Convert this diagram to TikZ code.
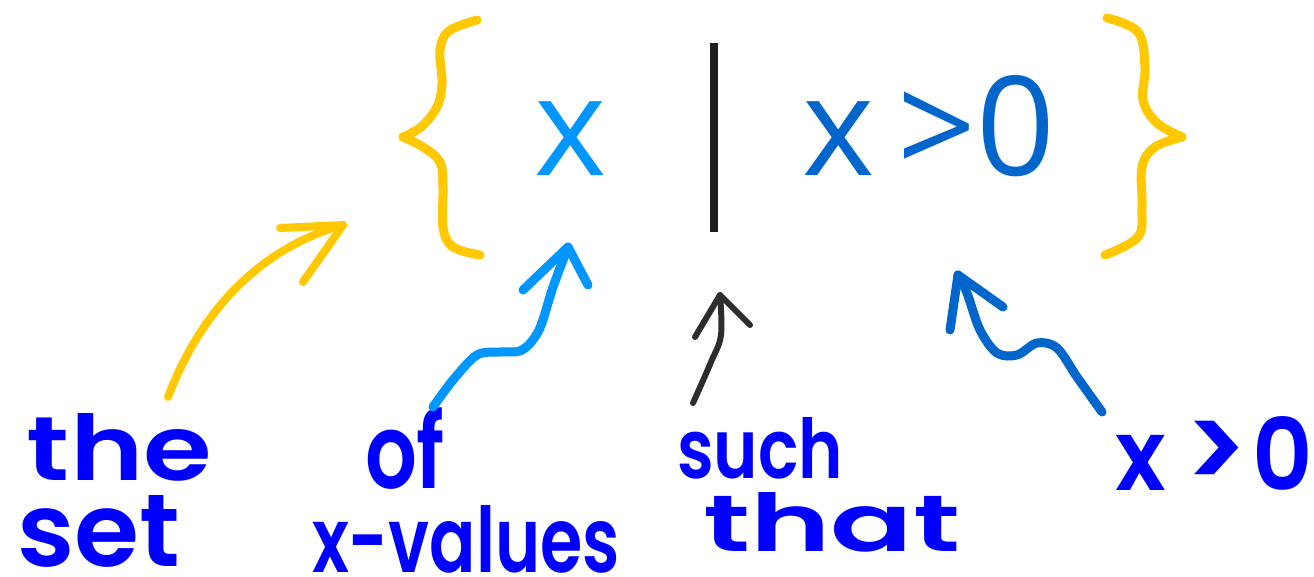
\documentclass[tikz,border=0pt]{standalone}
\usepackage{fontspec}
\usepackage{graphicx}
\newfontfamily\mainsans{Open Sans}
\newfontfamily\hwfamily{Poppins}[BoldFont={Poppins SemiBold}]
\usetikzlibrary{calc}
\definecolor{braceyellow}{RGB}{255,200,0}
\definecolor{lightblue}{RGB}{0,150,255}
\definecolor{darkblue}{RGB}{0,102,204}
\definecolor{penblue}{RGB}{0,0,255}
\definecolor{pengray}{RGB}{45,45,45}
\definecolor{barblack}{RGB}{30,30,30}
\newcommand\hw[3]{\resizebox{#1pt}{#2pt}{\hwfamily\bfseries #3}}
\tikzset{
  hwlabel/.style={anchor=base west, inner sep=0pt, outer sep=0pt, text=penblue},
  mathtext/.style={anchor=base, inner sep=0pt, outer sep=0pt, font=\mainsans\fontsize{138}{140}\selectfont},
  brace/.style={draw=braceyellow, line width=9pt, line cap=round, line join=round},
  pen/.style={line width=#1, line cap=round, line join=round},
}
\begin{document}
\begin{tikzpicture}[x=1pt, y=-1pt]
\fill[white] (0,0) rectangle (1314,576);
\useasboundingbox (0,0) rectangle (1314,576);

% main set notation
\node[mathtext, text=lightblue] (var) at (571,175) {x};
\node[mathtext, text=darkblue, anchor=base west] (cond) at (802,175) {x\hspace{0.17em}>0};
\draw[barblack, line width=8pt] (713.5,43) -- (713.5,232);

% braces
\draw[brace] plot[smooth, tension=0.6] coordinates {(477,20) (449,31) (440,50) (442,83) (437,107) (421,127) (403,137)};
\draw[brace] plot[smooth, tension=0.6] coordinates {(403,137) (423,147) (440,162) (443,187) (443,227) (453,247) (480,255)};
\draw[brace] plot[smooth, tension=0.6] coordinates {(1107,18) (1138,32) (1145,67) (1143,100) (1157,123) (1182,137)};
\draw[brace] plot[smooth, tension=0.6] coordinates {(1182,137) (1155,147) (1142,167) (1142,207) (1138,237) (1105,255)};

% handwritten labels
\node[hwlabel] (the) at (27,480) {\hw{185}{67}{the}};
\node[hwlabel] (set) at (17,566) {\hw{163}{71}{set}};
\node[hwlabel] (of) at (365,488) {\hw{80}{81}{of}};
\node[hwlabel] (xvalues) at (312,572) {\hw{308}{67}{x-values}};
\node[hwlabel] (such) at (677,478) {\hw{166}{61}{such}};
\node[hwlabel] (that) at (703,551) {\hw{257}{59}{that}};
\node[hwlabel] (xgt) at (1115,490) {\hw{198}{74}{x\hspace{0.2em}\scalebox{1.2}{>}\hspace{0.05em}0}};

% arrow end points
\coordinate (ys) at (168,397);
\coordinate (yt) at (343,225);
\coordinate (ls) at (433,407);
\coordinate (lt) at (568,247);
\coordinate (gs) at (693,403);
\coordinate (gt) at (720,295);
\coordinate (ds) at (1102,412);
\coordinate (dt) at (958,275);

% yellow arrow: the set -> braces
\draw[braceyellow, pen=8pt] (ys) .. controls (205,300) and (270,245) .. (yt);
\draw[braceyellow, pen=8pt] ($(yt)+(-63,3)$) -- (yt) -- ($(yt)+(-40,57)$);

% light blue arrow: of x-values -> x
\draw[lightblue, pen=9pt] plot[smooth, tension=0.55] coordinates {(ls) (453,380) (477,355) (500,352) (522,350) (539,330) (553,287) (lt)};
\draw[lightblue, pen=9pt] ($(lt)+(-45,43)$) -- (lt) -- ($(lt)+(20,38)$);

% gray arrow: such that -> bar
\draw[pengray, pen=6pt] plot[smooth, tension=0.6] coordinates {(gs) (711,362) (721,335) (gt)};
\draw[pengray, pen=6pt] ($(gt)+(-25,42)$) -- (gt) -- ($(gt)+(30,30)$);

% dark blue arrow: x>0 -> condition
\draw[darkblue, pen=9pt] plot[smooth, tension=0.55] coordinates {(ds) (1077,377) (1057,348) (1037,343) (1017,355) (997,353) (980,330) (967,293) (dt)};
\draw[darkblue, pen=9pt] ($(dt)+(-8,55)$) -- (dt) -- ($(dt)+(45,32)$);
\end{tikzpicture}
\end{document}
